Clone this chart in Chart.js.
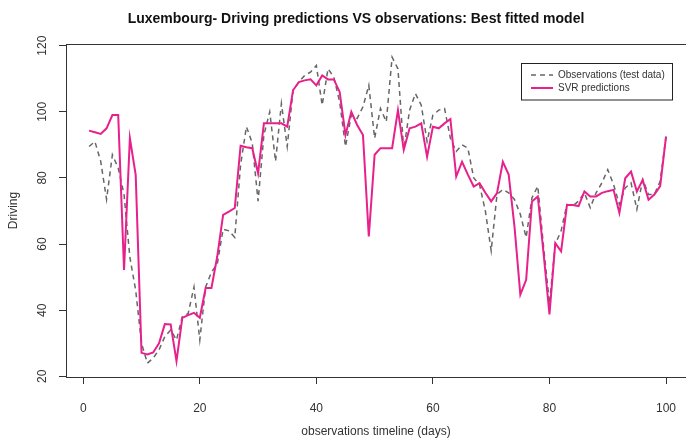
<!DOCTYPE html>
<html><head><meta charset="utf-8">
<script src="https://cdn.jsdelivr.net/npm/chart.js@4/dist/chart.umd.min.js"></script>
<style>html,body{margin:0;padding:0;background:#fff;}#wrap{width:686px;height:443px;}</style>
</head><body><div id="wrap"><canvas id="c" width="686" height="443"></canvas></div>
<script>
const days = [1,2,3,4,5,6,7,8,9,10,11,12,13,14,15,16,17,18,19,20,21,22,23,24,25,26,27,28,29,30,31,32,33,34,35,36,37,38,39,40,41,42,43,44,45,46,47,48,49,50,51,52,53,54,55,56,57,58,59,60,61,62,63,64,65,66,67,68,69,70,71,72,73,74,75,76,77,78,79,80,81,82,83,84,85,86,87,88,89,90,91,92,93,94,95,96,97,98,99,100];
const observations = [89.5,91,85,73.5,87,83,75,56,46,30,
24,25.5,28,32,34,31,38,39,47,31,
47,51.5,54,64.5,64,62,84,95.5,90.5,73,
93,100,85,102.5,89.5,106.5,109,111,112,114,
102,113,110.5,103,89.5,99,98,101.5,108,92,
101,97,116.5,113,88.5,100.5,105.5,102,91,99,
100.5,101,92,88,90,89,80,78,70,58,
75,76.5,75.5,73.5,69,62,74,77.5,59,42,
60,64,72,71.5,73,75.5,71,75.5,78.5,82.5,
78,72,77,78.5,70.5,79.5,75,75,79,92.5];
const predictions = [94.3,93.8,93.3,95,99,99,52.2,92,80.9,27.1,
26.6,27.2,30,35.8,35.7,24.6,37.7,38.5,39.2,37.7,
46.7,46.7,56.3,68.8,69.8,70.9,89.7,89.3,89,81.4,
96.5,96.5,96.5,96.5,95.5,106.5,109,109.5,109.8,108,
111,109.8,109.8,106,93,100,96,93,62.3,87,
89,89,89,100.5,88.5,95,95.5,96.5,86.4,95.5,
95,96.5,97.8,80.4,84.9,81,77.4,78.4,75.5,72.9,
75.4,84.9,81,65.3,44.7,49.2,72.9,74.4,57,38.7,
60.3,57.8,71.8,71.8,71.5,75.9,74.4,74.4,75.5,76,
76.4,69.4,79.9,81.9,75.9,79.4,73.4,75,77.5,92.5];
const xTicks = [0,20,40,60,80,100];
const yTicks = [20,40,60,80,100,120];
const titleText = 'Luxembourg- Driving predictions VS observations: Best fitted model';
const seriesNames = ['Observations (test data)','SVR predictions'];

const FONT = "'Liberation Sans', Arial, sans-serif";
const obsColor = '#666666';
const predColor = '#e8208c';

const decor = {
  id: 'decor',
  afterDraw(chart) {
    const ctx = chart.ctx, a = chart.chartArea;
    ctx.save();
    ctx.strokeStyle = '#333'; ctx.lineWidth = 1;
    ctx.strokeRect(Math.round(a.left)+0.5, Math.round(a.top)+0.5, 800, Math.round(a.bottom-a.top));
    ctx.fillStyle = '#111';
    ctx.font = "bold 14px " + FONT;
    ctx.textAlign = 'center'; ctx.textBaseline = 'middle';
    ctx.fillText(titleText, 356, 19);
    const ys = chart.scales.y;
    ctx.font = "12px " + FONT; ctx.fillStyle = '#333';
    ys.ticks.forEach(t => {
      if (!yTicks.includes(t.value)) return;
      ctx.save();
      ctx.translate(43, ys.getPixelForValue(t.value));
      ctx.rotate(-Math.PI/2);
      ctx.textAlign = 'center'; ctx.textBaseline = 'middle';
      ctx.fillText(String(t.value), 0, 0);
      ctx.restore();
    });
    const lx = 521.5, ly = 63.5, lw = 151, lh = 36.5;
    ctx.fillStyle = '#fff'; ctx.fillRect(lx, ly, lw, lh);
    ctx.strokeStyle = '#222'; ctx.lineWidth = 1; ctx.strokeRect(lx, ly, lw, lh);
    const ds = chart.data.datasets;
    const rows = [75, 88];
    ds.forEach((d, i) => {
      ctx.save();
      ctx.strokeStyle = d.borderColor; ctx.lineWidth = d.borderWidth;
      ctx.setLineDash(d.borderDash || []);
      ctx.beginPath(); ctx.moveTo(531, rows[i]); ctx.lineTo(553, rows[i]); ctx.stroke();
      ctx.restore();
      ctx.fillStyle = '#333'; ctx.font = "10px " + FONT;
      ctx.textAlign = 'left'; ctx.textBaseline = 'middle';
      ctx.fillText(d.label, 558, rows[i]);
    });
    ctx.restore();
  }
};

new Chart(document.getElementById('c'), {
  type: 'line',
  data: {
    datasets: [
      { label: seriesNames[0], data: days.map((d,i)=>({x:d, y:observations[i]})),
        borderColor: obsColor, borderWidth: 1.5, borderDash: [5,4], pointRadius: 0, tension: 0, fill: false, order: 2 },
      { label: seriesNames[1], data: days.map((d,i)=>({x:d, y:predictions[i]})),
        borderColor: predColor, borderWidth: 2, pointRadius: 0, tension: 0, fill: false, order: 1 }
    ]
  },
  options: {
    responsive: false, animation: false,
    layout: { padding: { top: 44, left: 0, right: 0, bottom: 0 } },
    plugins: { legend: { display: false }, title: { display: false }, tooltip: { enabled: false } },
    scales: {
      x: {
        type: 'linear', min: -2.96, max: 103.43,
        afterFit(s) { s.height = 66; s.paddingLeft = 0; s.paddingRight = 0; },
        afterBuildTicks(s) { s.ticks = xTicks.map(v => ({value: v})); },
        ticks: { stepSize: 20, includeBounds: false, autoSkip: false, maxRotation: 0, padding: 17,
                 color: '#333', font: { size: 12, family: FONT } },
        grid: { drawOnChartArea: false, drawTicks: true, tickLength: 7, color: '#333' },
        border: { display: false },
        title: { display: true, text: 'observations timeline (days)', color: '#333',
                 font: { size: 12, family: FONT }, padding: { top: 0, bottom: 4 } }
      },
      y: {
        type: 'linear', min: 19.8, max: 120.5,
        afterFit(s) { s.width = 66; s.paddingTop = 0; s.paddingBottom = 0; },
        afterBuildTicks(s) { s.ticks = yTicks.map(v => ({value: v})); },
        ticks: { display: false, stepSize: 20, includeBounds: false },
        grid: { drawOnChartArea: false, drawTicks: true, tickLength: 7, color: '#333' },
        border: { display: false },
        title: { display: true, text: 'Driving', color: '#333',
                 font: { size: 12, family: FONT }, padding: { top: 6, bottom: 0 } }
      }
    }
  },
  plugins: [decor]
});
</script>
</body></html>
